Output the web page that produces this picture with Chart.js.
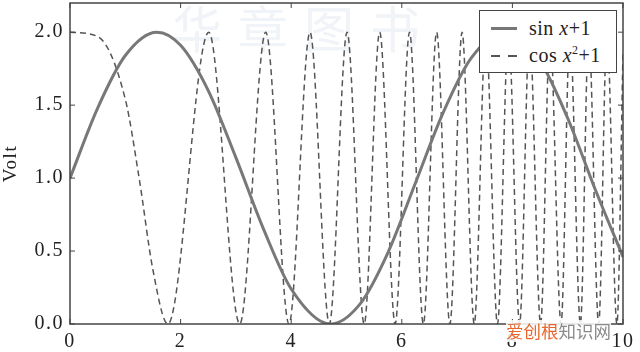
<!DOCTYPE html>
<html>
<head>
<meta charset="utf-8">
<script src="https://cdn.jsdelivr.net/npm/chart.js@4/dist/chart.umd.min.js"></script>
<style>
    body { margin: 0; background: #fff; }
    #wrap { position: relative; width: 640px; height: 352px; overflow: hidden; background: #fff; }
    #wm-top { position: absolute; left: 172px; top: -10px; font: 50px "Noto Sans CJK SC"; color: #f0f3f7; letter-spacing: 16px; }
    canvas { position: absolute; left: 0; top: 0; }
    #legend { position: absolute; left: 479px; top: 10px; width: 136px; height: 61px; border: 1px solid #444; background: #fff;
              font: 20px "Liberation Serif", serif; color: #222; }
    .row { position: absolute; left: 0; height: 24px; line-height: 24px; }
    .row span.s { position: absolute; left: 11px; top: 11px; width: 26px; }
    .row span.t { position: absolute; left: 49px; top: 0; white-space: nowrap; letter-spacing: 0.5px; }
    #wm-bot { position: absolute; left: 506px; top: 320px; font: 17.5px "Noto Sans CJK SC"; background: rgba(255,255,255,0.85); line-height: 22px; }
</style>
</head>
<body>
<div id="wrap">
    <div id="wm-top">华章图书</div>
    <canvas id="chart" width="640" height="352"></canvas>
    <div id="legend">
        <div class="row" style="top:5px;"><span class="s" style="border-top:3px solid #777;"></span><span class="t">sin <i>x</i>+1</span></div>
        <div class="row" style="top:32px;"><span class="s" style="top:12px;height:2px;background:repeating-linear-gradient(to right,#555 0 9px,transparent 9px 17px);"></span><span class="t">cos <i>x</i><sup style="font-size:12px;line-height:0;">2</sup>+1</span></div>
    </div>
    <div id="wm-bot"><span style="color:#e8662c;">爱创根</span><span style="color:#8a8a8a;">知识网</span></div>
</div>
<script>
// sin x + 1
const sinX = [0, 0.5, 1.0, 1.57, 2.0, 2.5, 3.0, 3.5, 4.0, 4.71, 5.25, 5.75, 6.25, 6.75, 7.25, 7.85, 8.5, 9.0, 9.5, 10];
const sinY = [1.00, 1.48, 1.84, 2.00, 1.91, 1.60, 1.14, 0.65, 0.24, 0.00, 0.14, 0.49, 0.97, 1.45, 1.82, 2.00, 1.80, 1.41, 0.92, 0.46];

// cos x^2 + 1 (peaks and troughs)
const cosX = [0, 0.5, 1.0, 1.25, 1.5, 1.77, 2.51, 3.07, 3.54, 3.96, 4.34, 4.69, 5.01, 5.32, 5.60, 5.88, 6.14, 6.39,
              6.63, 6.87, 7.09, 7.31, 7.52, 7.73, 7.93, 8.13, 8.31, 8.51, 8.68, 8.88, 9.04, 9.23, 9.38, 9.56, 9.71, 9.89, 10];
const cosY = [2.00, 1.97, 1.54, 1.00, 0.37, 0, 2, 0, 2, 0, 2, 0, 2, 0, 2, 0, 2, 0,
              2, 0, 2, 0, 2, 0, 2, 0, 2, 0, 2, 0, 2, 0, 2, 0, 2, 0, 1.86];

const xTicks = [0, 2, 4, 6, 8, 10];
const yTicks = [0, 0.5, 1.0, 1.5, 2.0];

const serif = '"Liberation Serif", "Times New Roman", serif';

// slightly wider tracking on the tick text, like the scanned figure
const spacingPlugin = {
    id: 'spacing',
    beforeLayout(chart) { chart.ctx.letterSpacing = '1.5px'; },
    beforeDraw(chart) { chart.ctx.letterSpacing = '1.5px'; }
};

// frame on all four sides with short inward ticks
const framePlugin = {
    id: 'frame',
    afterDatasetsDraw(chart) {
        const { ctx, chartArea: a, scales } = chart;
        ctx.save();
        ctx.strokeStyle = '#444';
        ctx.lineWidth = 1.5;
        ctx.strokeRect(a.left, a.top, a.right - a.left, a.bottom - a.top);
        ctx.lineWidth = 1;
        ctx.beginPath();
        xTicks.forEach(v => {
            const px = scales.x.getPixelForValue(v);
            ctx.moveTo(px, a.bottom); ctx.lineTo(px, a.bottom - 5);
            ctx.moveTo(px, a.top); ctx.lineTo(px, a.top + 5);
        });
        yTicks.forEach(v => {
            const py = scales.y.getPixelForValue(v);
            ctx.moveTo(a.left, py); ctx.lineTo(a.left + 5, py);
            ctx.moveTo(a.right, py); ctx.lineTo(a.right - 5, py);
        });
        ctx.stroke();
        ctx.restore();
    }
};

new Chart(document.getElementById('chart'), {
    type: 'line',
    data: {
        datasets: [{
            label: 'sin x+1',
            data: sinX.map((x, i) => ({ x: x, y: sinY[i] })),
            borderColor: '#787878',
            borderWidth: 3,
            pointRadius: 0,
            cubicInterpolationMode: 'monotone',
            fill: false
        }, {
            label: 'cos x^2+1',
            data: cosX.map((x, i) => ({ x: x, y: cosY[i] })),
            borderColor: '#555',
            borderWidth: 1.5,
            borderDash: [6, 4],
            pointRadius: 0,
            cubicInterpolationMode: 'monotone',
            fill: false
        }]
    },
    options: {
        responsive: false,
        animation: false,
        layout: { padding: { top: 3, right: 17, left: 0, bottom: 0 } },
        plugins: { legend: { display: false }, tooltip: { enabled: false } },
        scales: {
            x: {
                type: 'linear',
                min: 0,
                max: 10,
                afterFit: s => { s.height = 28; s.paddingLeft = 0; s.paddingRight = 0; },
                afterBuildTicks: s => { s.ticks = xTicks.map(v => ({ value: v })); },
                grid: { drawOnChartArea: false, drawTicks: false },
                border: { display: false },
                ticks: { padding: 6, color: '#222', font: { family: serif, size: 20 }, callback: v => String(v) }
            },
            y: {
                min: 0,
                max: 2.2,
                afterFit: s => { s.width = 70; s.paddingTop = 0; s.paddingBottom = 0; },
                afterBuildTicks: s => { s.ticks = yTicks.map(v => ({ value: v })); },
                grid: { drawOnChartArea: false, drawTicks: false },
                border: { display: false },
                ticks: { padding: 6, color: '#222', font: { family: serif, size: 20 }, callback: v => Number(v).toFixed(1) },
                title: { display: true, text: 'Volt', color: '#222', font: { family: serif, size: 19 }, padding: { top: 0, bottom: 2 } }
            }
        }
    },
    plugins: [spacingPlugin, framePlugin]
});
</script>
</body>
</html>
